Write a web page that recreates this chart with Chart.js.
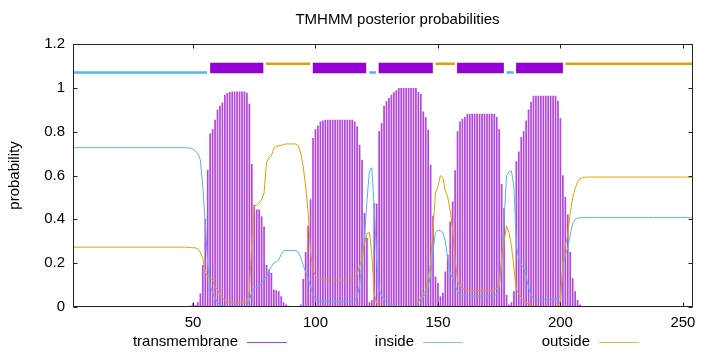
<!DOCTYPE html>
<html><head><meta charset="utf-8">
<script src="https://cdn.jsdelivr.net/npm/chart.js@4/dist/chart.umd.min.js"></script>
<style>html,body{margin:0;padding:0;background:#fff;}#wrap{width:720px;height:352px;position:relative;}</style>
</head><body><div id="wrap"><canvas id="c" width="720" height="352"></canvas></div>
<script>
// ---------- DATA ----------
const chartTitle = 'TMHMM posterior probabilities';
const yAxisTitle = 'probability';
const seriesNames = ['transmembrane', 'inside', 'outside'];
const xTickValues = [50, 100, 150, 200, 250];
const yTickValues = [0, 0.2, 0.4, 0.6, 0.8, 1, 1.2];
const yTickLabels = ['0', '0.2', '0.4', '0.6', '0.8', '1', '1.2'];
const seqLength = 254;
const residues = Array.from({length: seqLength}, (_, i) => i + 1);

const transmembrane = [
 0,0,0,0,0,0,0,0,0,0,
 0,0,0,0,0,0,0,0,0,0,
 0,0,0,0,0,0,0,0,0,0,
 0,0,0,0,0,0,0,0,0,0,
 0,0,0,0,0,0,0,0.002,0.005,0.017,
 0.008,0.02,0.06,0.19,0.40,0.625,0.79,0.81,0.853,0.90,
 0.917,0.932,0.967,0.975,0.98,0.982,0.982,0.982,0.982,0.982,
 0.982,0.976,0.926,0.651,0.465,0.443,0.443,0.412,0.366,0.19,
 0.17,0.154,0.078,0.075,0.07,0.047,0.02,0.01,0.004,0.002,
 0.001,0.001,0.003,0.01,0.126,0.25,0.37,0.49,0.77,0.81,
 0.826,0.845,0.85,0.853,0.853,0.853,0.853,0.853,0.853,0.853,
 0.853,0.853,0.853,0.853,0.853,0.845,0.823,0.739,0.67,0.427,
 0.313,0.02,0.029,0.473,0.47,0.80,0.838,0.917,0.937,0.952,
 0.967,0.978,0.987,0.998,0.998,0.998,0.998,0.998,0.998,0.998,
 0.998,0.98,0.97,0.89,0.865,0.807,0.648,0.415,0.138,0.108,
 0.047,0.064,0.161,0.237,0.389,0.48,0.622,0.80,0.845,0.858,
 0.865,0.88,0.88,0.88,0.88,0.88,0.88,0.88,0.88,0.88,
 0.88,0.88,0.88,0.865,0.81,0.56,0.45,0.054,0.01,0.02,
 0.07,0.663,0.708,0.774,0.80,0.85,0.90,0.935,0.962,0.962,
 0.962,0.962,0.962,0.962,0.962,0.962,0.962,0.962,0.94,0.86,
 0.60,0.50,0.42,0.25,0.13,0.07,0.03,0.01,0.002,0,
 0,0,0,0,0,0,0,0,0,0,
 0,0,0,0,0,0,0,0,0,0,
 0,0,0,0,0,0,0,0,0,0,
 0,0,0,0,0,0,0,0,0,0,
 0,0,0,0
];

const inside = [
 0.727,0.727,0.727,0.727,0.727,0.727,0.727,0.727,0.727,0.727,
 0.727,0.727,0.727,0.727,0.727,0.727,0.727,0.727,0.727,0.727,
 0.727,0.727,0.727,0.727,0.727,0.727,0.727,0.727,0.727,0.727,
 0.727,0.727,0.727,0.727,0.727,0.727,0.727,0.727,0.727,0.727,
 0.727,0.727,0.727,0.727,0.727,0.727,0.727,0.726,0.724,0.72,
 0.712,0.70,0.67,0.55,0.38,0.20,0.10,0.065,0.04,0.02,
 0.01,0.006,0.004,0.003,0.003,0.003,0.003,0.003,0.003,0.003,
 0.003,0.006,0.03,0.07,0.088,0.093,0.10,0.108,0.125,0.14,
 0.165,0.185,0.20,0.205,0.215,0.24,0.257,0.258,0.258,0.258,
 0.258,0.258,0.25,0.225,0.19,0.16,0.13,0.09,0.06,0.035,
 0.028,0.026,0.026,0.026,0.026,0.026,0.026,0.026,0.026,0.026,
 0.026,0.026,0.026,0.026,0.026,0.03,0.045,0.10,0.20,0.32,
 0.48,0.62,0.635,0.45,0.22,0.08,0.05,0.035,0.025,0.017,
 0.012,0.007,0.004,0.003,0.003,0.003,0.003,0.003,0.003,0.003,
 0.003,0.008,0.015,0.045,0.065,0.09,0.15,0.26,0.34,0.35,
 0.35,0.34,0.30,0.22,0.155,0.13,0.10,0.07,0.056,0.052,
 0.05,0.05,0.05,0.05,0.05,0.05,0.05,0.05,0.05,0.05,
 0.05,0.05,0.05,0.06,0.09,0.20,0.40,0.60,0.617,0.62,
 0.55,0.28,0.22,0.195,0.18,0.14,0.09,0.055,0.04,0.035,
 0.035,0.035,0.035,0.035,0.035,0.035,0.035,0.035,0.04,0.05,
 0.18,0.24,0.27,0.33,0.38,0.40,0.405,0.407,0.408,0.408,
 0.408,0.408,0.408,0.408,0.408,0.408,0.408,0.408,0.408,0.408,
 0.408,0.408,0.408,0.408,0.408,0.408,0.408,0.408,0.408,0.408,
 0.408,0.408,0.408,0.408,0.408,0.408,0.408,0.408,0.408,0.408,
 0.408,0.408,0.408,0.408,0.408,0.408,0.408,0.408,0.408,0.408,
 0.408,0.408,0.408,0.408
];

const outside = [
 0.273,0.273,0.273,0.273,0.273,0.273,0.273,0.273,0.273,0.273,
 0.273,0.273,0.273,0.273,0.273,0.273,0.273,0.273,0.273,0.273,
 0.273,0.273,0.273,0.273,0.273,0.273,0.273,0.273,0.273,0.273,
 0.273,0.273,0.273,0.273,0.273,0.273,0.273,0.273,0.273,0.273,
 0.273,0.273,0.273,0.273,0.273,0.273,0.273,0.272,0.271,0.27,
 0.27,0.265,0.25,0.22,0.16,0.14,0.13,0.123,0.09,0.078,
 0.06,0.045,0.03,0.022,0.019,0.019,0.019,0.019,0.019,0.019,
 0.019,0.025,0.07,0.30,0.46,0.465,0.475,0.49,0.52,0.66,
 0.68,0.69,0.725,0.733,0.735,0.738,0.742,0.744,0.744,0.744,
 0.744,0.744,0.735,0.70,0.64,0.55,0.43,0.25,0.17,0.14,
 0.13,0.127,0.125,0.123,0.123,0.123,0.123,0.123,0.123,0.123,
 0.123,0.123,0.123,0.123,0.123,0.13,0.15,0.185,0.225,0.29,
 0.335,0.34,0.24,0.06,0.017,0.008,0.005,0.003,0.003,0.003,
 0.003,0.003,0.003,0.003,0.003,0.003,0.003,0.003,0.003,0.003,
 0.003,0.02,0.045,0.06,0.075,0.13,0.20,0.36,0.52,0.55,
 0.60,0.59,0.53,0.50,0.44,0.35,0.22,0.12,0.095,0.085,
 0.08,0.075,0.075,0.075,0.075,0.075,0.075,0.075,0.075,0.075,
 0.075,0.075,0.078,0.085,0.11,0.22,0.30,0.37,0.34,0.28,
 0.18,0.08,0.06,0.04,0.03,0.02,0.015,0.008,0.004,0.003,
 0.003,0.003,0.003,0.003,0.003,0.003,0.003,0.003,0.008,0.025,
 0.20,0.28,0.33,0.43,0.50,0.54,0.57,0.585,0.59,0.592,
 0.593,0.593,0.593,0.593,0.593,0.593,0.593,0.593,0.593,0.593,
 0.593,0.593,0.593,0.593,0.593,0.593,0.593,0.593,0.593,0.593,
 0.593,0.593,0.593,0.593,0.593,0.593,0.593,0.593,0.593,0.593,
 0.593,0.593,0.593,0.593,0.593,0.593,0.593,0.593,0.593,0.593,
 0.593,0.592,0.592,0.592
];

// topology segments drawn above the plot
const segStart = [1, 57, 79.8, 98.9, 122, 125.8, 149, 157.8, 178, 181.9, 202];
const segEnd   = [55.7, 78.7, 97.8, 120.7, 124.7, 147.9, 156.9, 176.9, 180.9, 201, 253.8];
const segType  = ['inside','TMhelix','outside','TMhelix','inside','TMhelix','outside','TMhelix','inside','TMhelix','outside'];
const segLevel = {inside: 1.07, TMhelix: 1.09, outside: 1.11};

// ---------- STYLE ----------
const FONT = "'Liberation Sans', Arial, Helvetica, sans-serif";
const COL = {transmembrane: '#9400d3', inside: '#56b4e9', outside: '#e69f00', TMhelix: '#9400d3'};
const SEGW = {inside: 2.5, outside: 2.5, TMhelix: 10.5};

Chart.defaults.font.family = FONT;
Chart.defaults.font.size = 15;
Chart.defaults.color = '#000';

const segDatasets = segType.map((t, i) => ({
  type: 'line', label: '_seg' + i,
  data: [{x: segStart[i], y: segLevel[t]}, {x: segEnd[i], y: segLevel[t]}],
  borderColor: COL[t], borderWidth: SEGW[t], borderCapStyle: 'butt',
  pointRadius: 0, fill: false, order: 0, clip: false
}));

const framePlugin = {
  id: 'frame',
  afterDraw(chart) {
    const {ctx, chartArea: ca, scales} = chart;
    ctx.save();
    ctx.strokeStyle = '#222';
    ctx.lineWidth = 1;
    const L = Math.round(ca.left) + 0.5, R = Math.round(ca.right) - 0.5;
    const T = Math.round(ca.top) + 0.5, B = Math.round(ca.bottom) - 0.5;
    ctx.strokeRect(L, T, R - L, B - T);
    ctx.beginPath();
    const tl = 4;
    xTickValues.forEach(v => {
      const px = Math.round(scales.x.getPixelForValue(v)) + 0.5;
      ctx.moveTo(px, B); ctx.lineTo(px, B - tl);
      ctx.moveTo(px, T); ctx.lineTo(px, T + tl);
    });
    yTickValues.forEach(v => {
      const py = Math.round(scales.y.getPixelForValue(v)) + 0.5;
      ctx.moveTo(L, py); ctx.lineTo(L + tl, py);
      ctx.moveTo(R, py); ctx.lineTo(R - tl, py);
    });
    ctx.stroke();
    // title
    ctx.fillStyle = '#000';
    ctx.font = '15px ' + FONT;
    ctx.textAlign = 'center';
    ctx.textBaseline = 'middle';
    ctx.fillText(chartTitle, 397.5, 20);
    // legend (gnuplot style: text then sample)
    const sampleX = [247, 423, 599];
    const legY = 342;
    seriesNames.forEach((name, i) => {
      ctx.textAlign = 'right';
      ctx.fillStyle = '#000';
      ctx.fillText(name, sampleX[i] - 9, legY);
      ctx.beginPath();
      ctx.strokeStyle = COL[name];
      ctx.globalAlpha = 0.75;
      ctx.lineWidth = 1;
      ctx.moveTo(sampleX[i], legY + 0.5);
      ctx.lineTo(sampleX[i] + 40, legY + 0.5);
      ctx.stroke();
      ctx.globalAlpha = 1;
    });
    ctx.restore();
  }
};

new Chart(document.getElementById('c'), {
  type: 'line',
  data: {
    datasets: [
      ...segDatasets,
      {type: 'line', label: seriesNames[2], data: residues.map((r, i) => ({x: r, y: outside[i]})),
       borderColor: COL.outside, borderWidth: 1, pointRadius: 0, fill: false, tension: 0, order: 1},
      {type: 'line', label: seriesNames[1], data: residues.map((r, i) => ({x: r, y: inside[i]})),
       borderColor: COL.inside, borderWidth: 1, pointRadius: 0, fill: false, tension: 0, order: 2},
      {type: 'bar', label: seriesNames[0], data: residues.map((r, i) => ({x: r, y: transmembrane[i]})),
       backgroundColor: 'rgba(148,0,211,0.72)', borderWidth: 0, barThickness: 1.05, order: 3}
    ]
  },
  options: {
    responsive: false, animation: false, devicePixelRatio: 1,
    layout: {padding: {left: 0, right: 27.3, top: 44, bottom: 0}},
    plugins: {legend: {display: false}, title: {display: false}, tooltip: {enabled: false}},
    scales: {
      x: {
        type: 'linear', min: 1, max: seqLength, offset: false,
        grid: {display: false, drawTicks: false}, border: {display: false},
        afterBuildTicks: s => { s.ticks = xTickValues.map(v => ({value: v})); },
        ticks: {padding: 7, maxRotation: 0, autoSkip: false, color: '#000', callback: v => String(v)},
        afterFit: s => { s.height = 45; }
      },
      y: {
        min: 0, max: 1.2,
        grid: {display: false, drawTicks: false}, border: {display: false},
        afterBuildTicks: s => { s.ticks = yTickValues.map(v => ({value: v})); },
        ticks: {padding: 8, color: '#000', callback: (v, i) => yTickLabels[i]},
        title: {display: true, text: yAxisTitle, color: '#000', padding: {top: 6, bottom: 0}},
        afterFit: s => { s.width = 73; }
      }
    }
  },
  plugins: [framePlugin]
});
</script></body></html>
